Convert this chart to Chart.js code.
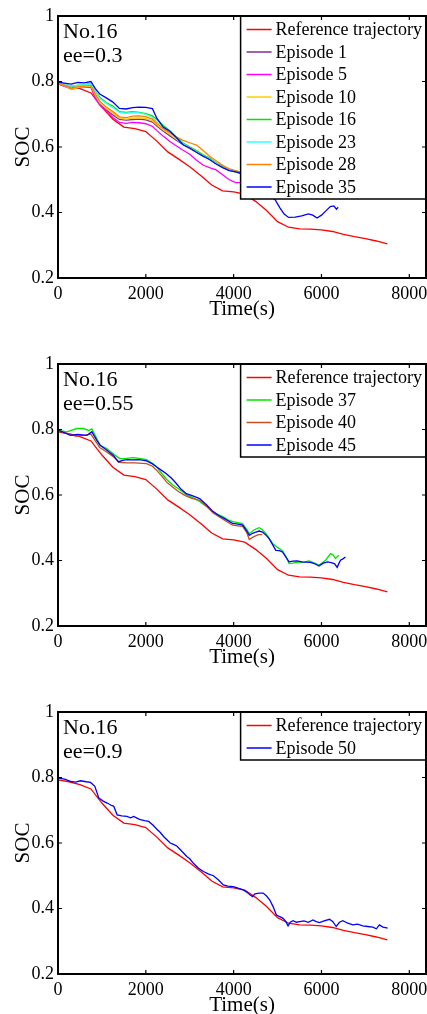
<!DOCTYPE html>
<html>
<head>
<meta charset="utf-8">
<script src="https://cdn.jsdelivr.net/npm/chart.js@4.4.1/dist/chart.umd.min.js"></script>
<style>
  html, body { margin: 0; padding: 0; background: #fff; width: 427px; height: 1014px; overflow: hidden; }
  canvas { position: absolute; left: 0; }
</style>
</head>
<body>
<canvas id="chart1" width="427" height="330" style="top:0px"></canvas>
<canvas id="chart2" width="427" height="330" style="top:348px"></canvas>
<canvas id="chart3" width="427" height="330" style="top:696px"></canvas>
<script>
// axis ticks
const xTicks = [0, 2000, 4000, 6000, 8000];
const yTicks = [0.2, 0.4, 0.6, 0.8, 1];

// reference trajectory (same in all three panels)
const refTime = [0, 250, 500, 750, 1000, 1250, 1500, 1750, 2000, 2250, 2500, 2750, 3000, 3250, 3500, 3750,
  4000, 4250, 4500, 4750, 5000, 5250, 5500, 5750, 6000, 6250, 6500, 6750, 7000, 7250, 7500];
const refSoc = [0.793, 0.787, 0.778, 0.765, 0.722, 0.685, 0.661, 0.656, 0.647, 0.618, 0.585, 0.563, 0.54, 0.513, 0.484, 0.466,
  0.463, 0.456, 0.434, 0.406, 0.372, 0.355, 0.35, 0.349, 0.347, 0.342, 0.333, 0.326, 0.32, 0.313, 0.304];

// panel 1, ee=0.3
const p1Time = [0, 150, 300, 450, 600, 750, 850, 950, 1100, 1250, 1400, 1550, 1700, 1850, 2000, 2150,
  2250, 2400, 2550, 2700, 2850, 3000, 3150, 3300, 3450, 3600, 3750, 3900, 4050, 4200, 4300];
const ep1Soc = [0.794, 0.786, 0.777, 0.78, 0.782, 0.784, 0.755, 0.73, 0.713, 0.698, 0.684, 0.682, 0.684, 0.685, 0.683, 0.676,
  0.664, 0.648, 0.634, 0.62, 0.607, 0.596, 0.585, 0.574, 0.562, 0.55, 0.538, 0.529, 0.523, 0.519, 0.517];
const ep5Soc = [0.793, 0.785, 0.78, 0.782, 0.783, 0.782, 0.748, 0.728, 0.71, 0.69, 0.675, 0.672, 0.675, 0.674, 0.671, 0.663,
  0.65, 0.633, 0.617, 0.603, 0.59, 0.578, 0.56, 0.545, 0.537, 0.53, 0.515, 0.5, 0.491, 0.491, 0.49];
const ep10Soc = [0.795, 0.787, 0.776, 0.781, 0.784, 0.786, 0.758, 0.735, 0.718, 0.703, 0.688, 0.685, 0.688, 0.689, 0.687, 0.68,
  0.668, 0.652, 0.638, 0.624, 0.61, 0.6, 0.59, 0.578, 0.565, 0.552, 0.54, 0.53, 0.524, 0.52, 0.518];
const ep16Soc = [0.797, 0.793, 0.785, 0.789, 0.79, 0.795, 0.77, 0.752, 0.735, 0.725, 0.708, 0.706, 0.708, 0.706, 0.702, 0.695,
  0.684, 0.666, 0.649, 0.63, 0.612, 0.6, 0.588, 0.576, 0.566, 0.552, 0.54, 0.532, 0.527, 0.522, 0.52];
const ep23Soc = [0.797, 0.792, 0.786, 0.788, 0.79, 0.793, 0.77, 0.748, 0.733, 0.72, 0.706, 0.703, 0.706, 0.704, 0.7, 0.69,
  0.676, 0.66, 0.645, 0.627, 0.61, 0.598, 0.585, 0.574, 0.563, 0.55, 0.538, 0.53, 0.525, 0.52, 0.518];
const ep28Soc = [0.795, 0.788, 0.778, 0.784, 0.786, 0.788, 0.762, 0.74, 0.722, 0.708, 0.692, 0.69, 0.694, 0.695, 0.693, 0.685,
  0.672, 0.656, 0.643, 0.63, 0.62, 0.613, 0.606, 0.59, 0.572, 0.558, 0.544, 0.533, 0.527, 0.522, 0.52];
const ep35Time = [0, 150, 300, 450, 600, 750, 850, 950, 1100, 1250, 1400, 1550, 1700, 1850, 2000, 2150,
  2250, 2400, 2550, 2700, 2850, 3000, 3150, 3300, 3450, 3600, 3750, 3900, 4050, 4200, 4300,
  4450, 4600, 4750, 4950, 5050, 5150, 5250, 5400, 5550, 5700, 5800, 5900, 6000, 6100, 6200, 6280, 6340, 6380];
const ep35Soc = [0.798, 0.795, 0.792, 0.797, 0.796, 0.8, 0.778, 0.762, 0.75, 0.737, 0.718, 0.716, 0.72, 0.722, 0.721, 0.717,
  0.688, 0.66, 0.648, 0.628, 0.607, 0.597, 0.584, 0.572, 0.562, 0.548, 0.537, 0.528, 0.524, 0.518, 0.512,
  0.5, 0.48, 0.46, 0.438, 0.415, 0.395, 0.385, 0.386, 0.39, 0.396, 0.392, 0.383, 0.392, 0.405, 0.418, 0.42, 0.41, 0.416];

// panel 2, ee=0.55
const ep37Time = [0, 200, 430, 580, 700, 770, 845, 960, 1110, 1300, 1410, 1550, 1714, 1850, 2016, 2150, 2242, 2350,
  2469, 2620, 2771, 2922, 3070, 3224, 3380, 3526, 3650, 3752, 3870, 3979, 4100, 4205, 4300, 4356, 4470, 4583,
  4650, 4734, 4885, 5000, 5111, 5200, 5262, 5350, 5489, 5600, 5715, 5830, 5942, 6020, 6093, 6206, 6260, 6319, 6395];
const ep37Soc = [0.798, 0.793, 0.803, 0.803, 0.797, 0.802, 0.782, 0.752, 0.742, 0.721, 0.711, 0.712, 0.714, 0.712, 0.708, 0.697, 0.686, 0.668,
  0.648, 0.63, 0.617, 0.601, 0.592, 0.58, 0.565, 0.549, 0.54, 0.534, 0.524, 0.519, 0.516, 0.512, 0.495, 0.482, 0.494, 0.5,
  0.495, 0.482, 0.452, 0.44, 0.43, 0.41, 0.391, 0.392, 0.396, 0.395, 0.399, 0.393, 0.386, 0.393, 0.401, 0.421, 0.418, 0.406, 0.416];
const ep40Time = [0, 200, 400, 600, 750, 850, 950, 1100, 1250, 1400, 1563, 1750, 2016, 2150, 2242, 2350, 2469, 2600,
  2750, 2900, 3050, 3224, 3380, 3526, 3650, 3800, 3979, 4100, 4205, 4300, 4356, 4450, 4550, 4650];
const ep40Soc = [0.797, 0.788, 0.78, 0.782, 0.786, 0.765, 0.745, 0.732, 0.718, 0.7, 0.698, 0.698, 0.696, 0.688, 0.676, 0.66, 0.64, 0.625,
  0.61, 0.598, 0.59, 0.584, 0.566, 0.546, 0.535, 0.522, 0.508, 0.506, 0.504, 0.485, 0.464, 0.472, 0.478, 0.48];
const ep45Time = [0, 150, 280, 450, 657, 770, 883, 960, 1100, 1261, 1374, 1470, 1563, 1700, 1850, 2016, 2150, 2242,
  2350, 2469, 2580, 2695, 2800, 2922, 3070, 3224, 3380, 3526, 3650, 3800, 3979, 4100, 4205, 4300, 4356, 4430,
  4507, 4580, 4658, 4740, 4809, 4880, 4960, 5040, 5111, 5190, 5262, 5350, 5450, 5550, 5650, 5750, 5850, 5942,
  6040, 6140, 6244, 6300, 6357, 6400, 6433, 6490, 6546];
const ep45Soc = [0.798, 0.79, 0.782, 0.785, 0.782, 0.793, 0.767, 0.752, 0.738, 0.721, 0.701, 0.706, 0.708, 0.707, 0.708, 0.704, 0.695, 0.686,
  0.676, 0.665, 0.652, 0.635, 0.618, 0.604, 0.597, 0.589, 0.57, 0.55, 0.538, 0.527, 0.513, 0.511, 0.508, 0.49, 0.477, 0.483,
  0.487, 0.49, 0.487, 0.477, 0.467, 0.45, 0.431, 0.43, 0.426, 0.41, 0.396, 0.398, 0.399, 0.396, 0.395, 0.394, 0.39, 0.383,
  0.392, 0.396, 0.393, 0.39, 0.379, 0.392, 0.401, 0.405, 0.411];

// panel 3, ee=0.9
const ep50Time = [0, 150, 287, 400, 514, 640, 741, 839, 930, 1030, 1119, 1200, 1270, 1346, 1450, 1572, 1650, 1724,
  1800, 1875, 1970, 2064, 2160, 2253, 2330, 2404, 2480, 2555, 2630, 2706, 2820, 2933, 3000, 3084, 3200, 3311,
  3420, 3538, 3650, 3765, 3870, 3992, 4100, 4218, 4300, 4370, 4430, 4483, 4580, 4672, 4750, 4823, 4900, 4974,
  5050, 5126, 5190, 5239, 5290, 5352, 5430, 5504, 5600, 5700, 5806, 5880, 5957, 6060, 6184, 6260, 6335, 6410,
  6486, 6600, 6713, 6820, 6940, 7050, 7167, 7250, 7318, 7400, 7507];
const ep50Soc = [0.798, 0.795, 0.788, 0.786, 0.79, 0.787, 0.785, 0.773, 0.737, 0.728, 0.722, 0.716, 0.712, 0.686, 0.683, 0.681, 0.677, 0.681,
  0.676, 0.671, 0.668, 0.666, 0.655, 0.642, 0.632, 0.62, 0.61, 0.6, 0.596, 0.591, 0.575, 0.559, 0.552, 0.538, 0.523, 0.513,
  0.506, 0.5, 0.488, 0.472, 0.468, 0.467, 0.462, 0.457, 0.45, 0.442, 0.436, 0.445, 0.447, 0.447, 0.438, 0.426, 0.405, 0.38,
  0.375, 0.37, 0.36, 0.347, 0.358, 0.363, 0.358, 0.36, 0.362, 0.358, 0.365, 0.36, 0.357, 0.362, 0.367, 0.36, 0.345, 0.358,
  0.363, 0.355, 0.35, 0.352, 0.347, 0.345, 0.343, 0.338, 0.35, 0.343, 0.34];

Chart.defaults.font.family = '"Liberation Serif", "Times New Roman", serif';
Chart.defaults.color = '#000';

function pts(t, v) {
  return t.map((x, i) => ({ x: x, y: v[i] }));
}

// legend box in the upper right corner of the plot
const boxLegend = {
  id: 'boxLegend',
  afterDatasetsDraw(chart) {
    const ctx = chart.ctx, a = chart.chartArea;
    const ds = chart.data.datasets;
    ctx.save();
    ctx.font = '18px "Liberation Serif"';
    const textW = Math.max(...ds.map(d => ctx.measureText(d.label).width));
    const rowH = 22.5;
    const w = textW + 39, h = ds.length * rowH + 3;
    const x0 = a.right - w, y0 = a.top;
    ctx.fillStyle = '#fff';
    ctx.fillRect(x0, y0, w, h);
    ctx.strokeStyle = '#000';
    ctx.lineWidth = 1.5;
    ctx.strokeRect(x0, y0, w, h);
    ctx.textBaseline = 'middle';
    ds.forEach((d, i) => {
      const y = y0 + 13.5 + i * rowH;
      ctx.strokeStyle = d.borderColor;
      ctx.lineWidth = 1.5;
      ctx.beginPath();
      ctx.moveTo(x0 + 6, y);
      ctx.lineTo(x0 + 31, y);
      ctx.stroke();
      ctx.fillStyle = '#000';
      ctx.fillText(d.label, x0 + 35, y + 1);
    });
    ctx.restore();
  }
};

// "No.16 / ee=..." note
const notes = {
  id: 'notes',
  afterDatasetsDraw(chart, args, opts) {
    const ctx = chart.ctx, a = chart.chartArea;
    ctx.save();
    ctx.font = '22px "Liberation Serif"';
    ctx.fillStyle = '#000';
    ctx.textBaseline = 'middle';
    opts.lines.forEach((s, i) => ctx.fillText(s, a.left + 5, a.top + 16 + i * 24));
    ctx.restore();
  }
};

// box around the axes with inward ticks
const frame = {
  id: 'frame',
  afterDraw(chart) {
    const ctx = chart.ctx, a = chart.chartArea;
    const xs = chart.scales.x, ys = chart.scales.y;
    ctx.save();
    ctx.strokeStyle = '#000';
    ctx.lineWidth = 1.2;
    ctx.beginPath();
    xTicks.forEach(v => {
      const px = xs.getPixelForValue(v);
      ctx.moveTo(px, a.bottom); ctx.lineTo(px, a.bottom - 4);
      ctx.moveTo(px, a.top); ctx.lineTo(px, a.top + 4);
    });
    yTicks.forEach(v => {
      const py = ys.getPixelForValue(v);
      ctx.moveTo(a.left, py); ctx.lineTo(a.left + 4, py);
      ctx.moveTo(a.right, py); ctx.lineTo(a.right - 4, py);
    });
    ctx.stroke();
    ctx.lineWidth = 2;
    ctx.strokeRect(a.left, a.top, a.right - a.left, a.bottom - a.top);
    ctx.restore();
  }
};

function makeChart(id, lines, series) {
  const n = series.length;
  return new Chart(document.getElementById(id), {
    type: 'line',
    data: {
      datasets: series.map((s, i) => ({
        label: s.label,
        data: pts(s.time, s.soc),
        borderColor: s.color,
        borderWidth: 1.3,
        pointRadius: 0,
        fill: false,
        tension: 0,
        order: n - i
      }))
    },
    options: {
      responsive: false,
      animation: false,
      devicePixelRatio: 1,
      layout: { padding: { top: 16, right: 1, bottom: 8, left: 0 } },
      plugins: {
        legend: { display: false },
        tooltip: { enabled: false },
        notes: { lines: lines }
      },
      scales: {
        x: {
          type: 'linear',
          min: 0,
          max: 8380,
          border: { display: false },
          grid: { display: false, drawTicks: false },
          ticks: { font: { size: 18 }, padding: 5, maxRotation: 0, autoSkip: false, callback: v => String(v) },
          afterBuildTicks: s => { s.ticks = xTicks.map(v => ({ value: v })); },
          afterFit: s => { s.height = 44; s.paddingLeft = 0; s.paddingRight = 0; },
          title: { display: true, text: 'Time(s)', font: { size: 21 }, padding: 0 }
        },
        y: {
          min: 0.2,
          max: 1,
          border: { display: false },
          grid: { display: false, drawTicks: false },
          ticks: {
            font: { size: 18 },
            padding: 4,
            callback: v => String(Math.round(v * 10) / 10)
          },
          afterBuildTicks: s => { s.ticks = yTicks.map(v => ({ value: v })); },
          afterFit: s => { s.width = 58; s.paddingTop = 0; s.paddingBottom = 0; },
          title: { display: true, text: 'SOC', font: { size: 21 }, padding: { top: 11, bottom: 0 } }
        }
      }
    },
    plugins: [boxLegend, notes, frame]
  });
}

const ref = { label: 'Reference trajectory', time: refTime, soc: refSoc, color: '#ff0000' };

makeChart('chart1', ['No.16', 'ee=0.3'], [
  ref,
  { label: 'Episode 1', time: p1Time, soc: ep1Soc, color: '#7e2f8e' },
  { label: 'Episode 5', time: p1Time, soc: ep5Soc, color: '#ff00ff' },
  { label: 'Episode 10', time: p1Time, soc: ep10Soc, color: '#ffcc00' },
  { label: 'Episode 16', time: p1Time, soc: ep16Soc, color: '#00e600' },
  { label: 'Episode 23', time: p1Time, soc: ep23Soc, color: '#33ffff' },
  { label: 'Episode 28', time: p1Time, soc: ep28Soc, color: '#ff8000' },
  { label: 'Episode 35', time: ep35Time, soc: ep35Soc, color: '#0000ff' }
]);

makeChart('chart2', ['No.16', 'ee=0.55'], [
  ref,
  { label: 'Episode 37', time: ep37Time, soc: ep37Soc, color: '#00e600' },
  { label: 'Episode 40', time: ep40Time, soc: ep40Soc, color: '#c0501f' },
  { label: 'Episode 45', time: ep45Time, soc: ep45Soc, color: '#0000ff' }
]);

makeChart('chart3', ['No.16', 'ee=0.9'], [
  ref,
  { label: 'Episode 50', time: ep50Time, soc: ep50Soc, color: '#0000ff' }
]);
</script>
</body>
</html>
